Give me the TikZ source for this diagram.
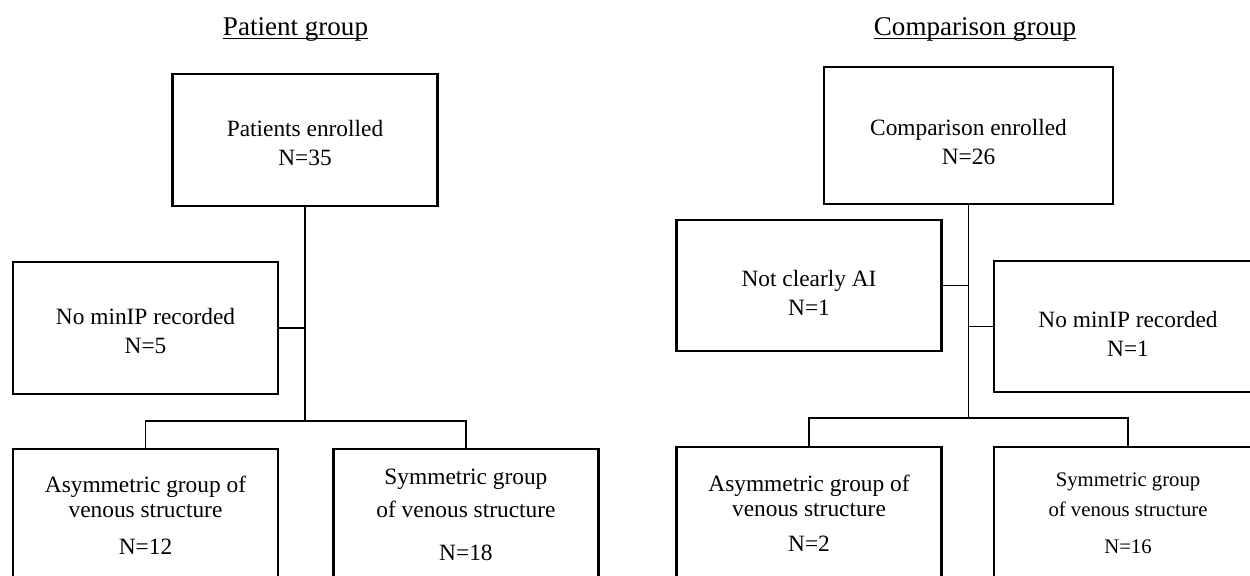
\documentclass[tikz,border=0pt]{standalone}
\usepackage{fontspec}
\setmainfont{Liberation Serif}
\usetikzlibrary{positioning}
\newcommand{\pushdown}[1]{\rule{0pt}{#1}}

\begin{document}
\begin{tikzpicture}[x=0.02cm,y=-0.02cm,on grid,
   box/.style={draw,line width=1.5pt,minimum width=5.3cm,minimum height=2.64cm,
      align=center,font=\fontsize{13.3}{16.5}\selectfont},
   grouptitle/.style={inner sep=0pt,anchor=base,font=\fontsize{15.4}{18}\selectfont},
   link/.style={line width=0.9pt}]
   \useasboundingbox (0,0) rectangle (1250,575);
   \clip (0,0) rectangle (1250,575);
   % patient group
   \node[grouptitle] (p_title) at (295.5,35) {Patient group};
   \draw[line width=0.8pt] ([yshift=-2pt]p_title.base west) -- ([yshift=-2pt]p_title.base east);
   \node[box] (p_enr) at (305,140) {\pushdown{12.6pt}Patients enrolled\\N=35};
   \node[box] (p_nomip) at (145.5,328) {\pushdown{12.4pt}No minIP recorded\\N=5};
   \node[box] (p_asym) [below=3.74cm of p_nomip] {Asymmetric group of\\[-2.3pt]venous structure\\[4.5pt]N=12};
   \node[box] (p_sym) [right=6.41cm of p_asym] {Symmetric group\\[2.2pt]of venous structure\\[8.5pt]N=18};
   \coordinate (p_join) at (305,421);
   \draw[link] (p_enr.south) -- (p_join);
   \draw[link] (p_nomip.east) -- (p_nomip.east -| p_join);
   \draw[link] (p_asym.north) |- (p_join) -| (p_sym.north);
   % comparison group
   \node[grouptitle] (c_title) at (975,35) {Comparison group};
   \draw[line width=0.8pt] ([yshift=-2pt]c_title.base west) -- ([yshift=-2pt]c_title.base east);
   \node[box,minimum width=5.78cm,minimum height=2.74cm] (c_enr) at (968.5,135.5) {\pushdown{17pt}Comparison enrolled\\N=26};
   \node[box,minimum height=2.62cm] (c_ai) at (809,285.5) {\pushdown{18pt}Not clearly AI\\N=1};
   \node[box,minimum width=5.36cm,minimum height=2.62cm] (c_nomip) at (1128,326.5) {\pushdown{18pt}No minIP recorded\\N=1};
   \node[box] (c_asym) [below=4.55cm of c_ai] {Asymmetric group of\\[-2.3pt]venous structure\\[3.3pt]N=2};
   \node[box,minimum width=5.36cm,font=\fontsize{11.8}{14.5}\selectfont] (c_sym) [below=3.73cm of c_nomip] {Symmetric group\\[2.5pt]of venous structure\\[6.5pt]N=16};
   \coordinate (c_join) at (968.5,418);
   \draw[link] (c_enr.south) -- (c_join);
   \draw[link] (c_ai.east) -- (c_ai.east -| c_join);
   \draw[link] (c_nomip.west) -- (c_nomip.west -| c_join);
   \draw[link] (c_asym.north) |- (c_join) -| (c_sym.north);
\end{tikzpicture}
\end{document}
